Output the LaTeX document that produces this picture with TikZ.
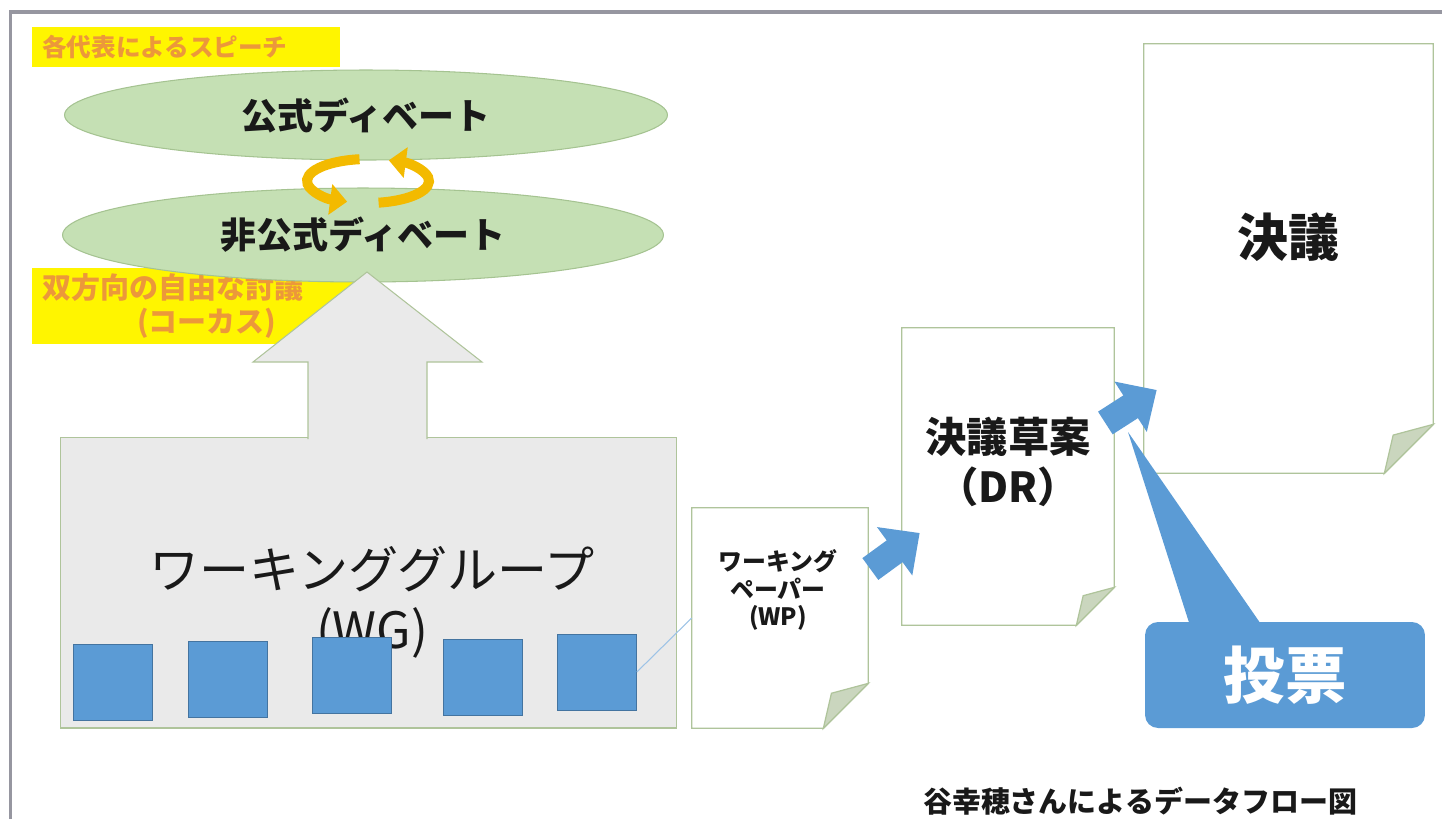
\documentclass[tikz,border=0pt]{standalone}
\usepackage{fontspec}
\usepackage{xcolor}
\usepackage{tikz}
\usetikzlibrary{shapes.geometric, arrows.meta, calc}

\newfontfamily\jp{Noto Sans CJK JP}

\definecolor{leaf}{RGB}{197,224,180}
\definecolor{leafline}{RGB}{165,195,145}
\definecolor{pageline}{RGB}{175,196,155}
\definecolor{flap}{RGB}{202,214,190}
\definecolor{wggray}{RGB}{234,234,234}
\definecolor{voteblue}{RGB}{91,155,213}
\definecolor{marker}{RGB}{255,245,0}
\definecolor{memo}{RGB}{236,152,58}
\definecolor{swirl}{RGB}{243,186,0}
\definecolor{framegray}{RGB}{150,150,160}
\definecolor{ink}{RGB}{25,25,25}

\tikzset{
  hilite/.style={fill=marker, text=memo, inner ysep=0pt, inner xsep=0.2cm, align=left, anchor=north west},
  debate/.style={ellipse, draw=leafline, fill=leaf, line width=0.6pt, text=ink, font=\jp\bfseries\fontsize{20.5}{24}\selectfont},
  wgbox/.style={draw=pageline, fill=wggray, line width=0.6pt},
  member/.style={rectangle, draw=voteblue!75!black, fill=voteblue, line width=0.4pt, minimum width=1.58cm, minimum height=1.52cm},
  page/.style={rectangle, fill=white, inner sep=0pt},
  pageedge/.style={draw=pageline, line width=0.7pt},
  words/.style={text=ink, align=center, inner sep=0pt},
  flow/.style={draw=voteblue, line width=0.54cm, -{Triangle[width=1.16cm, length=0.62cm]}},
  cycler/.style={draw=swirl, line width=0.2cm, -{Triangle[width=0.6cm, length=0.34cm]}},
}

\begin{document}
\begin{tikzpicture}[x=0.02cm, y=-0.02cm]
\useasboundingbox (0,0) rectangle (1442,819);

% slide frame
\draw[framegray, line width=0.07cm] (10.5,819) |- (1442,12);

% debates
\node[hilite, text width=5.76cm, minimum height=0.8cm, font=\jp\bfseries\fontsize{14}{16}\selectfont] (speech) at (32,27) {各代表によるスピーチ};
\node[debate, minimum width=12.06cm, minimum height=1.8cm] (formal) at (366,115) {公式ディベート};
\node[hilite, text width=6.16cm, minimum height=1.52cm, font=\jp\bfseries\fontsize{16.5}{19.4}\selectfont] (caucus) at (32,268) {双方向の自由な討議\\\hspace*{1.9cm}(コーカス)};
\node[debate, minimum width=12.02cm, minimum height=1.88cm] (informal) at (363,235) {非公式ディベート};

\coordinate (cyc) at (368,181);
\draw[cycler] ([shift={(262:61 and 22)}]cyc) arc[start angle=262, end angle=110, x radius=61, y radius=22];
\draw[cycler] ([shift={(80:61 and 22)}]cyc) arc[start angle=80, end angle=-70, x radius=61, y radius=22];

% working group
\node[wgbox, minimum width=12.34cm, minimum height=5.82cm] (wg) at (368.5,582.5) {};
\filldraw[wgbox] (308,439) -- (308,362) -- (253,362) -- (367,272) -- (482,362) -- (427,362) -- (427,439);
\node[words, font=\jp\fontsize{28.5}{34}\selectfont] (wgtext) at (372,602) {ワーキンググループ\\(WG)};
\foreach \n/\x/\y in {1/113/682, 2/228/679, 3/352/675, 4/483/677, 5/597/672}
  \node[member] (sq\n) at (\x,\y) {};

% papers
\node[page, minimum width=3.52cm, minimum height=4.4cm] (wp) at (780,618) {};
\node[page, minimum width=4.24cm, minimum height=5.94cm] (dr) at (1008,476.5) {};
\node[page, minimum width=5.78cm, minimum height=8.58cm] (res) at (1288.5,258.5) {};
\foreach \p/\f in {wp/45, dr/38, res/49}{
  \draw[pageedge] (\p.north west) -- (\p.north east) -- ($(\p.south east)+(0,-\f)$) -- ($(\p.south east)+(-\f,0)$) -- (\p.south west) -- cycle;
  \filldraw[pageedge, fill=flap] ($(\p.south east)+(0,-\f)$) -- ($(\p.south east)+(-0.82*\f,-0.78*\f)$) -- ($(\p.south east)+(-\f,0)$) -- cycle;
}
\node[words, font=\jp\bfseries\fontsize{13.6}{15.4}\selectfont] (wptext) at (778,590) {ワーキング\\ペーパー\\(WP)};
\node[words, font=\jp\bfseries\fontsize{23.5}{28.5}\selectfont] (drtext) at (1008,462) {決議草案\\（DR）};
\node[words, font=\jp\bfseries\fontsize{29}{34}\selectfont] (restext) at (1288,237) {決議};

% flows
\draw[voteblue!60, line width=0.6pt] (sq5.east) -- (wp.west);
\draw[flow] ($(wp.east)+(2,-49)$) -- ($(dr.west)+(18,56.5)$);
\draw[flow] ($(dr.east)+(-9,-53.5)$) -- ($(res.west)+(13,131.5)$);

% vote
\node[rectangle, rounded corners=0.26cm, fill=voteblue, text=white, minimum width=5.6cm, minimum height=2.12cm, font=\jp\bfseries\fontsize{35}{40}\selectfont] (vote) at (1285,675) {投票};
\coordinate (votetip) at (1128,432);
\fill[voteblue] (votetip) -- ($(vote.north)+(-95,4)$) -- ($(vote.north)+(-23,4)$) -- cycle;

\node[words, font=\jp\bfseries\fontsize{16.5}{20}\selectfont] (credit) at (1140,801) {谷幸穂さんによるデータフロー図};
\end{tikzpicture}
\end{document}
